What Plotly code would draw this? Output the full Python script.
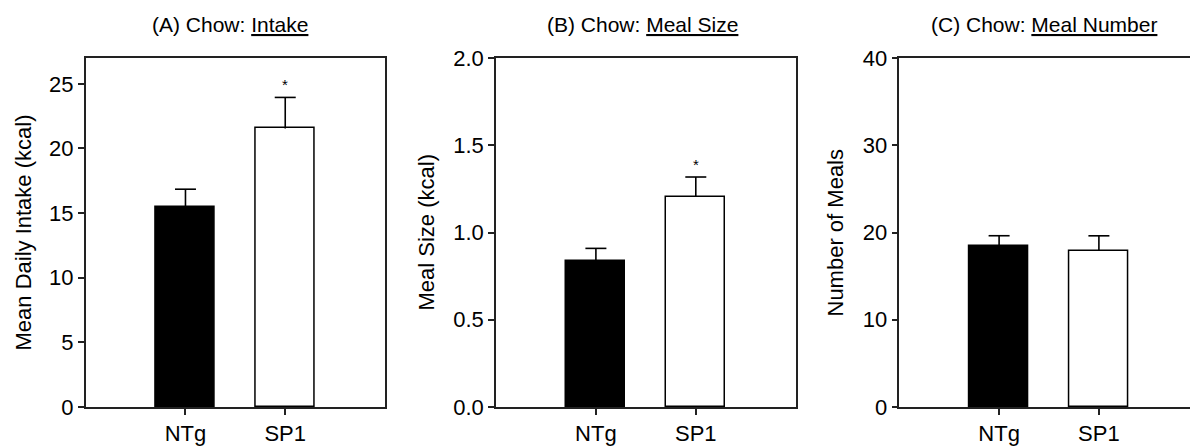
import plotly.graph_objects as go

categories = ["NTg", "SP1"]
intake_mean = [15.5, 21.55]
intake_sem = [1.35, 2.4]
mealsize_mean = [0.835, 1.205]
mealsize_sem = [0.074, 0.113]
mealnum_mean = [18.45, 17.9]
mealnum_sem = [1.18, 1.72]
sig_intake = ["", "*"]
sig_mealsize = ["", "*"]
sig_mealnum = ["", ""]

titles = ["(A) Chow: ", "(B) Chow: ", "(C) Chow: "]
title_under = ["Intake", "Meal Size", "Meal Number"]
ytitles = ["Mean Daily Intake (kcal)", "Meal Size (kcal)", "Number of Meals"]
yranges = [[0, 27], [0, 2.0], [0, 40]]
ytickvals = [[0, 5, 10, 15, 20, 25], [0, 0.5, 1.0, 1.5, 2.0], [0, 10, 20, 30, 40]]
yticktext = [["0", "5", "10", "15", "20", "25"], ["0.0", "0.5", "1.0", "1.5", "2.0"], ["0", "10", "20", "30", "40"]]

W, H = 1190, 446
MT, MB = 58, 39
PH = H - MT - MB
FONT = "Liberation Sans, Arial, sans-serif"
fill_colors = ["black", "white"]

panels = [
    (intake_mean, intake_sem, sig_intake),
    (mealsize_mean, mealsize_sem, sig_mealsize),
    (mealnum_mean, mealnum_sem, sig_mealnum),
]
xdom_px = [(85.7, 385.0), (496.0, 795.7), (899.3, 1190.0)]
xranges = [[-1, 2], [-1, 2], [-1, -1 + (1190 - 899.3) / 99.8]]
ytitle_x = [23, 426, 835]
title_x = [230, 642, 1044]

fig = go.Figure()
annotations = []
for i, (m, s, sig) in enumerate(panels):
    xa = "x" if i == 0 else f"x{i+1}"
    ya = "y" if i == 0 else f"y{i+1}"
    top = [m[j] + s[j] for j in range(2)]
    fig.add_trace(go.Bar(
        x=[0, 1], y=m, width=0.59,
        marker=dict(color=fill_colors, line=dict(color="black", width=1.5)),
        error_y=dict(type="data", array=s, arrayminus=[0, 0], symmetric=False,
                     color="black", thickness=1.6, width=0),
        xaxis=xa, yaxis=ya, showlegend=False, hoverinfo="skip",
    ))
    # caps on the upper whisker only
    fig.add_trace(go.Scatter(
        x=[0, 1], y=top, mode="markers",
        marker=dict(symbol="line-ew", size=15, color="black",
                    line=dict(color="black", width=1.6)),
        xaxis=xa, yaxis=ya, showlegend=False, hoverinfo="skip", cliponaxis=False,
    ))
    for j in range(2):
        if sig[j]:
            annotations.append(dict(
                x=j, y=top[j], xref=xa, yref=ya, text=sig[j],
                showarrow=False, yanchor="bottom", yshift=2,
                font=dict(family=FONT, size=15, color="black"),
            ))
    annotations.append(dict(
        x=ytitle_x[i] / W, y=0.5, xref="paper", yref="paper",
        text=ytitles[i], textangle=-90, showarrow=False,
        xanchor="center", yanchor="middle",
        font=dict(family=FONT, size=22, color="black"),
    ))
    annotations.append(dict(
        x=title_x[i] / W, y=1 + (MT - 25) / PH, xref="paper", yref="paper",
        text=titles[i] + '<span style="text-decoration:underline">' + title_under[i] + "</span>",
        showarrow=False, xanchor="center", yanchor="middle",
        font=dict(family=FONT, size=21, color="black"),
    ))

    d0, d1 = xdom_px[i]
    layout_x = dict(
        domain=[d0 / W, d1 / W], range=xranges[i],
        tickvals=[0, 1], ticktext=categories,
        ticks="outside", ticklen=6, tickwidth=1.5, tickcolor="#222",
        showline=True, linecolor="#222", linewidth=1.5, mirror=True,
        showgrid=False, zeroline=False,
        tickfont=dict(family=FONT, size=22, color="black"),
        anchor=ya, fixedrange=True,
    )
    layout_y = dict(
        range=yranges[i], tickvals=ytickvals[i], ticktext=yticktext[i],
        ticks="outside", ticklen=6, tickwidth=1.5, tickcolor="#222",
        showline=True, linecolor="#222", linewidth=1.5, mirror=(i < 2),
        showgrid=False, zeroline=False,
        tickfont=dict(family=FONT, size=22, color="black"),
        anchor=xa, domain=[0, 1],
    )
    key = "" if i == 0 else str(i + 1)
    fig.update_layout(**{f"xaxis{key}": layout_x, f"yaxis{key}": layout_y})

fig.update_layout(
    width=W, height=H,
    margin=dict(l=0, r=0, t=MT, b=MB),
    paper_bgcolor="white", plot_bgcolor="white",
    annotations=annotations,
    bargap=0,
)
fig.write_html("out.html")
